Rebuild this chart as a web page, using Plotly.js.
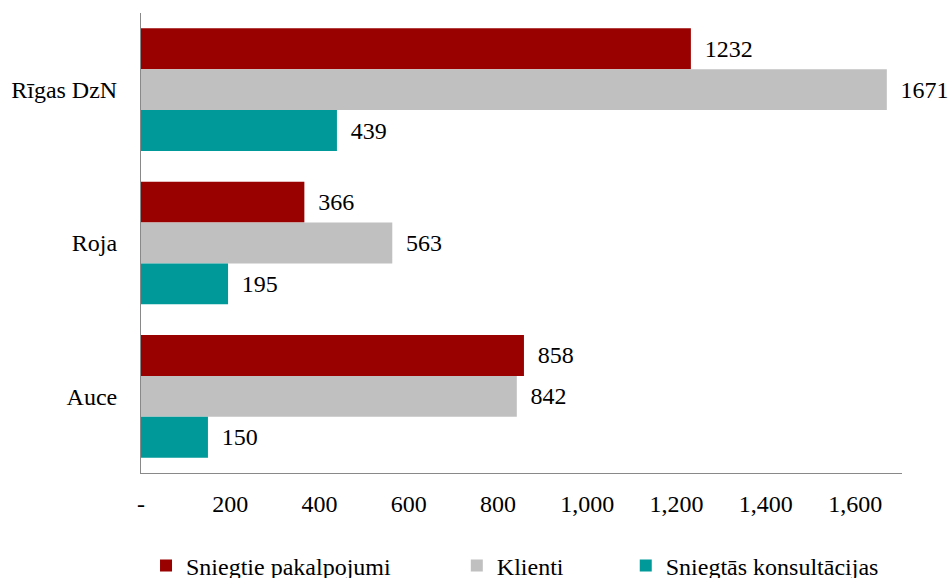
<!DOCTYPE html>
<html>
<head>
<meta charset="utf-8">
<script src="https://cdn.plot.ly/plotly-3.0.1.min.js"></script>
<style>html,body{margin:0;padding:0;background:#fff}#chart{width:948px;height:578px}</style>
</head>
<body>
<div id="chart"></div>
<script>
const categories = ['Rīgas DzN', 'Roja', 'Auce'];
const seriesNames = ['Sniegtie pakalpojumi', 'Klienti', 'Sniegtās konsultācijas'];
const pakalpojumi = [1232, 366, 858];
const klienti = [1671, 563, 842];
const konsultacijas = [439, 195, 150];
const tickValues = [0, 200, 400, 600, 800, 1000, 1200, 1400, 1600];
const tickLabels = ['-', '200', '400', '600', '800', '1,000', '1,200', '1,400', '1,600'];

const colors = ['#990000', '#c0c0c0', '#009999'];
const values = [pakalpojumi, klienti, konsultacijas];
const legendIds = ['legend', 'legend2', 'legend3'];
const FONT = 'Liberation Serif';
const FS = 24;

const traces = values.map((v, i) => ({
  type: 'bar',
  orientation: 'h',
  name: seriesNames[i],
  y: categories,
  x: v,
  marker: {color: colors[i], line: {width: 0}},
  text: v.map(String),
  texttemplate: '\u00a0\u2009%{text}',
  textposition: 'outside',
  textfont: {family: FONT, size: FS, color: '#000'},
  cliponaxis: false,
  legend: legendIds[i],
  hoverinfo: 'none'
}));

const legendBase = {
  orientation: 'h', yanchor: 'middle', xanchor: 'left', yref: 'container',
  y: 0.021, font: {family: FONT, size: FS, color: '#000'},
  bgcolor: 'rgba(0,0,0,0)', borderwidth: 0
};

const layout = {
  width: 948, height: 578,
  margin: {l: 141, r: 46, t: 13, b: 105, autoexpand: false},
  paper_bgcolor: '#fff', plot_bgcolor: '#fff',
  barmode: 'group', bargap: 0.2, bargroupgap: 0,
  font: {family: FONT, size: FS, color: '#000'},
  showlegend: true,
  legend: Object.assign({}, legendBase, {x: 0.0066}),
  legend2: Object.assign({}, legendBase, {x: 0.415}),
  legend3: Object.assign({}, legendBase, {x: 0.637}),
  xaxis: {
    range: [0, 1705], tickvals: tickValues, ticktext: tickLabels,
    showgrid: false, zeroline: false, showline: true,
    linecolor: '#898989', linewidth: 1, ticks: '',
    ticklabelstandoff: 9,
    tickfont: {family: FONT, size: FS, color: '#000'}
  },
  yaxis: {
    autorange: 'reversed', type: 'category',
    showgrid: false, zeroline: false, showline: true,
    linecolor: '#898989', linewidth: 1, ticks: '',
    ticklabelstandoff: 18,
    tickfont: {family: FONT, size: FS, color: '#000'}
  }
};

Plotly.newPlot('chart', traces, layout, {displayModeBar: false, staticPlot: true});
</script>
</body>
</html>
